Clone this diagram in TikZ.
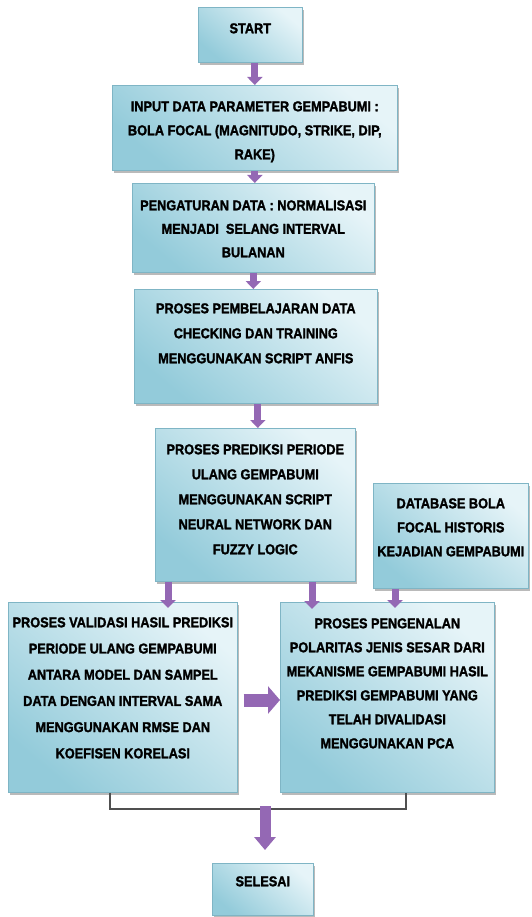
\documentclass[tikz,border=0pt]{standalone}
\usepackage{fontspec}
\setmainfont{Liberation Sans}[FakeStretch=0.89, BoldFeatures={FakeBold=1.6}]
\usetikzlibrary{arrows.meta,shadows,calc}
\definecolor{boxdark}{HTML}{93CBDA}
\definecolor{boxlight}{HTML}{E6F4F8}
\definecolor{boxedge}{HTML}{7FB5C5}
\definecolor{arrowpurple}{HTML}{9468B4}
\definecolor{linegray}{HTML}{505050}
\newcommand\boxcontent[5]{\parbox[c][#2pt][t]{#1pt}{\centering\baselineskip=#4pt\vspace*{#3pt}#5\par}}
\begin{document}
\begin{tikzpicture}[x=1pt,y=-1pt,
  flowbox/.style={draw=boxedge, line width=0.6pt, top color=boxlight, bottom color=boxdark, shading angle=-40,
    inner sep=0pt, anchor=north west, font=\fontsize{14.3pt}{24pt}\selectfont\bfseries,
    drop shadow={shadow xshift=1.5pt, shadow yshift=-2.5pt, fill=black!60, opacity=0.45}},
  varrow/.style={arrowpurple, line width=7pt, -{Triangle[width=15pt,length=8pt]}},
  harrow/.style={arrowpurple, line width=13pt, -{Triangle[width=27pt,length=12pt]}},
  barrow/.style={arrowpurple, line width=11pt, -{Triangle[width=21pt,length=13pt]}},
  bracket/.style={draw=linegray, line width=1.3pt}]
\useasboundingbox (0,0) rectangle (531,917);

\node[flowbox] (start) at (198,7) {\boxcontent{104}{55}{16}{24}{START}};
\node[flowbox] (input) at (112,85) {\boxcontent{285}{85}{16}{24}{INPUT DATA PARAMETER GEMPABUMI :\\BOLA FOCAL (MAGNITUDO, STRIKE, DIP,\\RAKE)}};
\node[flowbox] (peng) at (132,183) {\boxcontent{242}{89}{17}{23.5}{PENGATURAN DATA : NORMALISASI\\MENJADI~ SELANG INTERVAL\\BULANAN}};
\node[flowbox] (pemb) at (134,289) {\boxcontent{243}{114}{14}{25}{PROSES PEMBELAJARAN DATA\\CHECKING DAN TRAINING\\MENGGUNAKAN SCRIPT ANFIS}};
\node[flowbox] (pred) at (155,428) {\boxcontent{200}{153}{16}{25}{PROSES PREDIKSI PERIODE\\ULANG GEMPABUMI\\MENGGUNAKAN SCRIPT\\NEURAL NETWORK DAN\\FUZZY LOGIC}};
\node[flowbox] (db) at (373,483) {\boxcontent{155}{105}{15}{24}{DATABASE BOLA\\FOCAL HISTORIS\\KEJADIAN GEMPABUMI}};
\node[flowbox] (val) at (8,602) {\boxcontent{229}{190}{15}{26.2}{PROSES VALIDASI HASIL PREDIKSI\\PERIODE ULANG GEMPABUMI\\ANTARA MODEL DAN SAMPEL\\DATA DENGAN INTERVAL SAMA\\MENGGUNAKAN RMSE DAN\\KOEFISEN KORELASI}};
\node[flowbox] (pen) at (280,602) {\boxcontent{214}{190}{16}{24}{PROSES PENGENALAN\\POLARITAS JENIS SESAR DARI\\MEKANISME GEMPABUMI HASIL\\PREDIKSI GEMPABUMI YANG\\TELAH DIVALIDASI\\MENGGUNAKAN PCA}};
\node[flowbox] (sel) at (212,863) {\boxcontent{101}{52}{13}{24}{SELESAI}};

\coordinate (xa) at (168,0);
\coordinate (xb) at (312,0);
\coordinate (xc) at (395,0);
\coordinate (ya) at (0,700);
\coordinate (bL) at (110,809);
\coordinate (bR) at (406,809);
\coordinate (bM) at (265,806);

\draw[varrow] (start.south -| input.north) -- (input.north);
\draw[varrow] (input.south) -- (input.south |- peng.north);
\draw[varrow] (peng.south) -- (peng.south |- pemb.north);
\draw[varrow] ([xshift=2pt]pemb.south) -- ([xshift=2pt]pemb.south |- pred.north);
\draw[varrow, shorten >=-6pt] (pred.south -| xa) -- (val.north -| xa);
\draw[varrow, shorten >=-7pt] (pred.south -| xb) -- (pen.north -| xb);
\draw[varrow, shorten >=-6pt] (db.south -| xc) -- (pen.north -| xc);
\draw[harrow, shorten <=6pt] (val.east |- ya) -- (pen.west |- ya);
\draw[bracket] (val.south -| bL) -- (bL) -- (bR) -- (pen.south -| bR);
\draw[barrow, shorten >=13pt] (bM) -- (bM |- sel.north);
\end{tikzpicture}
\end{document}
